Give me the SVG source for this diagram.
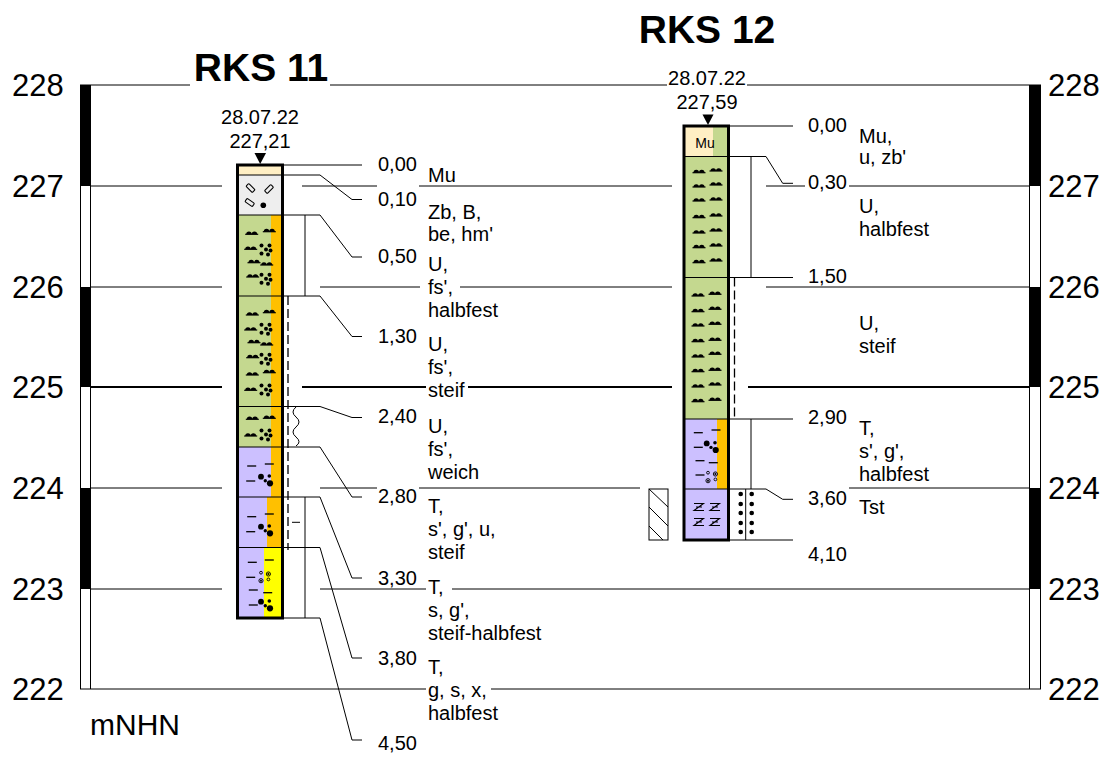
<svg xmlns="http://www.w3.org/2000/svg" width="1109" height="763" viewBox="0 0 1109 763">
<style>
text{font-family:"Liberation Sans",Arial,sans-serif;fill:#000}
.n{font-size:20px}
.c{text-anchor:middle}
.sc{font-size:31px}
.t{font-size:39px;font-weight:bold}
.g{stroke:#000;stroke-width:1;fill:none}
.g2{stroke:#000;stroke-width:2;fill:none}
.bd{fill:none;stroke:#000;stroke-width:3}
.lb{stroke:#000;stroke-width:1;fill:none}
.cr{fill:#FFEFC4}
.gy{fill:#EEEEEE}
.gn{fill:#C4D88F}
.or{fill:#FFC000}
.lv{fill:#CCC0FF}
.ye{fill:#FFFF00}
.dash{stroke:#000;stroke-width:1.3;fill:none;stroke-dasharray:9,4}
</style>
<defs>
<g id="silt"><path d="M-6.5,1H6.5" stroke="#000" stroke-width="1.2"/><path d="M-5.5,1A2.7,2.8 0 0 1 0,1A2.7,2.8 0 0 1 5.5,1Z" fill="#000"/></g>
<g id="fs" fill="#000"><circle cx="-4.5" cy="-4.5" r="2"/><circle cx="3.5" cy="-4.5" r="2"/><circle cx="0" cy="-0.5" r="2"/><circle cx="4.5" cy="0.5" r="2"/><circle cx="-4.5" cy="3.5" r="2"/><circle cx="2" cy="4.5" r="2"/></g>
<g id="gr" fill="#000"><circle cx="-5" cy="-3.3" r="2.9"/><circle cx="3.3" cy="-4" r="1.8"/><circle cx="-0.7" cy="0.7" r="1.7"/><circle cx="4" cy="3.3" r="3.1"/></g>
<g id="sa" fill="none" stroke="#000" stroke-width="0.9"><circle cx="-3.7" cy="-4" r="1.4"/><circle cx="-3.7" cy="4" r="2.1"/><circle cx="-3.7" cy="4" r="0.7" fill="#000"/><circle cx="3.7" cy="-2.7" r="2.1"/><circle cx="3.7" cy="-2.7" r="0.7" fill="#000"/><circle cx="3.7" cy="2.7" r="1.4"/></g>
<path id="cl" d="M-4.5,0H4.5" stroke="#000" stroke-width="1.3"/>
<path id="zz" d="M-5,-3.5H4.5L-5,3.5H5M-3,0H3" stroke="#000" stroke-width="1.1" fill="none"/>
<g id="brick"><rect x="-4.5" y="-2" width="9" height="4" rx="1" fill="none" stroke="#000" stroke-width="1.1"/></g>
<clipPath id="hc"><rect x="649" y="489" width="19" height="51"/></clipPath>
</defs>

<g id="scale-left">
<rect x="80.5" y="85" width="10" height="604" fill="#fff" stroke="#000" stroke-width="1"/>
<rect x="80" y="85" width="11" height="101" fill="#000"/>
<rect x="80" y="287" width="11" height="100" fill="#000"/>
<rect x="80" y="488" width="11" height="101" fill="#000"/>
<text class="sc" x="12" y="96">228</text>
<text class="sc" x="12" y="197">227</text>
<text class="sc" x="12" y="298">226</text>
<text class="sc" x="12" y="398">225</text>
<text class="sc" x="12" y="499">224</text>
<text class="sc" x="12" y="600">223</text>
<text class="sc" x="12" y="700">222</text>
<text x="90" y="735" style="font-size:30px">mNHN</text>
</g>

<g id="scale-right">
<rect x="1029.5" y="85" width="11" height="604" fill="#fff" stroke="#000" stroke-width="1"/>
<rect x="1029" y="85" width="12" height="101" fill="#000"/>
<rect x="1029" y="287" width="12" height="100" fill="#000"/>
<rect x="1029" y="488" width="12" height="101" fill="#000"/>
<text class="sc" x="1048" y="96">228</text>
<text class="sc" x="1048" y="197">227</text>
<text class="sc" x="1048" y="298">226</text>
<text class="sc" x="1048" y="398">225</text>
<text class="sc" x="1048" y="499">224</text>
<text class="sc" x="1048" y="600">223</text>
<text class="sc" x="1048" y="700">222</text>
</g>

<g id="grid">
<path class="g" d="M91,85H190M330,85H667M747,85H1029"/>
<path class="g" d="M91,186H222M302,186H377M419,186H672M766,186H805M849,186H1029"/>
<path class="g" d="M91,287H222M320,287H420M460,287H672M766,287H1029"/>
<path class="g2" d="M91,387H222M302,387H426M468,387H672M748,387H1029"/>
<path class="g" d="M91,488H222M320,488H377M419,488H640M849,488H1029"/>
<path class="g" d="M91,589H222M320,589H426M452,589H1029"/>
<path class="g" d="M91,689H426M491,689H1029"/>
</g>

<g id="rks11">
<text class="t c" x="261" y="81">RKS 11</text>
<text class="n c" x="260" y="124">28.07.22</text>
<text class="n c" x="260" y="148">227,21</text>
<polygon points="254.5,153 266,153 260.2,164" fill="#000"/>
<rect class="cr" x="237.5" y="165" width="45" height="10"/>
<rect class="gy" x="237.5" y="175" width="45" height="40"/>
<rect class="gn" x="237.5" y="215" width="45" height="232"/>
<rect class="or" x="271" y="215" width="11.5" height="282"/>
<rect class="lv" x="237.5" y="447" width="33.5" height="50"/>
<rect class="lv" x="237.5" y="497" width="29.5" height="50.5"/>
<rect class="or" x="267" y="497" width="15.5" height="50.5"/>
<rect class="lv" x="237.5" y="547.5" width="26.5" height="70.5"/>
<rect class="ye" x="264" y="547.5" width="18.5" height="70.5"/>
<path class="lb" d="M237.5,175H282.5M237.5,215H282.5M237.5,296H282.5M237.5,406.5H282.5M237.5,447H282.5M237.5,497H282.5M237.5,547.5H282.5"/>
<use href="#brick" transform="translate(250.5,188) rotate(45)"/>
<use href="#brick" transform="translate(269,189) rotate(-45)"/>
<use href="#brick" transform="translate(249.7,202.5) rotate(35)"/>
<circle cx="263.3" cy="205.3" r="2.8" fill="#000"/>
<use href="#silt" x="251.7" y="233.3"/><use href="#silt" x="269.3" y="230.7"/>
<use href="#silt" x="250.7" y="248.3"/><use href="#fs" x="266" y="250"/>
<use href="#silt" x="254" y="261.7"/><use href="#silt" x="266.7" y="264"/>
<use href="#silt" x="252.7" y="276"/><use href="#fs" x="266" y="279.3"/>
<use href="#silt" x="252.3" y="314"/><use href="#silt" x="269.3" y="311.7"/>
<use href="#silt" x="250.7" y="329"/><use href="#fs" x="266" y="329.3"/>
<use href="#silt" x="254" y="341.7"/><use href="#silt" x="266.7" y="344"/>
<use href="#silt" x="252.7" y="356.7"/><use href="#fs" x="266" y="359.3"/>
<use href="#silt" x="252.3" y="374"/><use href="#silt" x="269.3" y="371.7"/>
<use href="#silt" x="250.7" y="389.3"/><use href="#fs" x="266" y="390"/>
<use href="#silt" x="252.3" y="418.3"/><use href="#silt" x="269.3" y="417.3"/>
<use href="#silt" x="250.7" y="435"/><use href="#fs" x="266" y="435"/>
<use href="#cl" x="251.7" y="466"/><use href="#cl" x="269.3" y="464"/>
<use href="#cl" x="250.7" y="481"/><use href="#gr" x="266" y="480"/>
<use href="#cl" x="251.7" y="516.7"/><use href="#cl" x="269.3" y="514"/>
<use href="#cl" x="250.7" y="531.7"/><use href="#gr" x="266" y="530"/>
<use href="#cl" x="252.3" y="562.3"/><use href="#cl" x="269.3" y="560"/>
<use href="#cl" x="250.7" y="577.3"/><use href="#sa" x="264.7" y="576.7"/>
<use href="#cl" x="253.3" y="590"/><use href="#cl" x="267.7" y="592.7"/>
<use href="#cl" x="253.3" y="605"/><use href="#gr" x="266" y="605"/>
<rect class="bd" x="237.5" y="165" width="45" height="453"/>
<path class="lb" d="M305,215V296M305,497V618M292,522.3H300"/>
<path class="dash" d="M288,296V550"/>
<path class="lb" d="M296,407q-6,5 0,10t0,10t0,10t0,9"/>
<path class="lb" d="M283,165H362M283,175H320L352,199.5H362M283,215H320L352,257H362M283,296H320L352,336.5H362M283,406.5H320L352,417.5H362M283,447H320L352,497H362M283,497H320L352,578H362M283,547.5H320L352,658H362M283,618H320L352,740H362"/>
<text class="n" x="378" y="171">0,00</text>
<text class="n" x="428" y="182">Mu</text>
<text class="n" x="378" y="206">0,10</text>
<text class="n" x="428" y="219">Zb, B,</text>
<text class="n" x="428" y="241">be, hm'</text>
<text class="n" x="378" y="263">0,50</text>
<text class="n" x="428" y="271">U,</text>
<text class="n" x="428" y="294">fs',</text>
<text class="n" x="428" y="317">halbfest</text>
<text class="n" x="378" y="343">1,30</text>
<text class="n" x="428" y="351">U,</text>
<text class="n" x="428" y="374">fs',</text>
<text class="n" x="428" y="397">steif</text>
<text class="n" x="378" y="423">2,40</text>
<text class="n" x="428" y="433">U,</text>
<text class="n" x="428" y="456">fs',</text>
<text class="n" x="428" y="479">weich</text>
<text class="n" x="378" y="503">2,80</text>
<text class="n" x="428" y="513">T,</text>
<text class="n" x="428" y="536">s', g', u,</text>
<text class="n" x="428" y="559">steif</text>
<text class="n" x="378" y="585">3,30</text>
<text class="n" x="428" y="594">T,</text>
<text class="n" x="428" y="617">s, g',</text>
<text class="n" x="428" y="640">steif-halbfest</text>
<text class="n" x="378" y="665">3,80</text>
<text class="n" x="428" y="674">T,</text>
<text class="n" x="428" y="697">g, s, x,</text>
<text class="n" x="428" y="720">halbfest</text>
<text class="n" x="378" y="750">4,50</text>
</g>

<g id="rks12">
<text class="t c" x="707" y="43">RKS 12</text>
<text class="n c" x="707" y="85">28.07.22</text>
<text class="n c" x="707" y="109">227,59</text>
<polygon points="702.5,114.5 713.5,114.5 708,125" fill="#000"/>
<rect class="cr" x="684" y="126" width="29" height="30.5"/>
<rect class="gn" x="713" y="126" width="15" height="30.5"/>
<rect class="gn" x="684" y="156.5" width="44" height="262.5"/>
<rect class="lv" x="684" y="419" width="33" height="70"/>
<rect class="or" x="717" y="419" width="11" height="70"/>
<rect class="lv" x="684" y="489" width="44" height="51"/>
<text x="705" y="148" class="c" style="font-size:14px">Mu</text>
<path class="lb" d="M684,156.5H728M684,277.5H728M684,419H728M684,489H728"/>
<use href="#silt" x="699" y="171.7"/><use href="#silt" x="716" y="170"/>
<use href="#silt" x="699" y="186"/><use href="#silt" x="716" y="184"/>
<use href="#silt" x="699" y="200"/><use href="#silt" x="716" y="199"/>
<use href="#silt" x="699" y="216.7"/><use href="#silt" x="716" y="215"/>
<use href="#silt" x="699" y="232"/><use href="#silt" x="716" y="230"/>
<use href="#silt" x="699" y="246.7"/><use href="#silt" x="716" y="245"/>
<use href="#silt" x="699" y="261.7"/><use href="#silt" x="716" y="260"/>
<use href="#silt" x="698" y="295"/><use href="#silt" x="715" y="293.3"/>
<use href="#silt" x="698" y="310.7"/><use href="#silt" x="715" y="308.3"/>
<use href="#silt" x="698" y="325"/><use href="#silt" x="715" y="323.3"/>
<use href="#silt" x="698" y="340.7"/><use href="#silt" x="715" y="339.3"/>
<use href="#silt" x="698" y="356"/><use href="#silt" x="715" y="353.3"/>
<use href="#silt" x="698" y="370.7"/><use href="#silt" x="715" y="369.3"/>
<use href="#silt" x="698" y="386"/><use href="#silt" x="715" y="384"/>
<use href="#silt" x="698" y="400.7"/><use href="#silt" x="715" y="399.3"/>
<use href="#cl" x="698.3" y="432.7"/><use href="#cl" x="716" y="430"/>
<use href="#cl" x="698.3" y="447.3"/><use href="#gr" x="711.7" y="446.7"/>
<use href="#cl" x="700" y="460.7"/><use href="#cl" x="713.3" y="462.7"/>
<use href="#cl" x="700" y="475"/><use href="#sa" x="711.7" y="476.7"/>
<use href="#zz" x="699" y="507"/><use href="#zz" x="715" y="507"/>
<use href="#zz" x="699" y="522"/><use href="#zz" x="715" y="522"/>
<rect class="bd" x="684" y="126" width="44.5" height="414"/>
<path class="lb" d="M751,156.5V277.5M751,419V489M745.7,489V540"/>
<path class="dash" d="M734.5,277.5V419"/>
<g fill="#000"><circle cx="740.7" cy="494" r="2.3"/><circle cx="740.7" cy="504" r="2.3"/><circle cx="740.7" cy="513" r="2.3"/><circle cx="740.7" cy="523" r="2.3"/><circle cx="740.7" cy="532" r="2.3"/><circle cx="751.7" cy="494" r="2.3"/><circle cx="751.7" cy="504" r="2.3"/><circle cx="751.7" cy="513" r="2.3"/><circle cx="751.7" cy="523" r="2.3"/><circle cx="751.7" cy="532" r="2.3"/></g>
<rect x="649" y="489" width="19" height="51" fill="#fff" stroke="#000" stroke-width="1"/>
<path class="lb" clip-path="url(#hc)" d="M649,489L668,507M649,507L668,526M649,526L668,545"/>
<path class="lb" d="M729,126H793M729,156.5H766L782.7,183.3H793M729,277.5H793M729,419H793M729,489H766L782.7,499.3H793M729,540H793"/>
<text class="n" x="808" y="132">0,00</text>
<text class="n" x="859" y="143">Mu,</text>
<text class="n" x="859" y="164">u, zb'</text>
<text class="n" x="808" y="189">0,30</text>
<text class="n" x="859" y="213">U,</text>
<text class="n" x="859" y="236">halbfest</text>
<text class="n" x="808" y="283">1,50</text>
<text class="n" x="859" y="330">U,</text>
<text class="n" x="859" y="353">steif</text>
<text class="n" x="808" y="424">2,90</text>
<text class="n" x="859" y="435">T,</text>
<text class="n" x="859" y="458">s', g',</text>
<text class="n" x="859" y="481">halbfest</text>
<text class="n" x="808" y="505">3,60</text>
<text class="n" x="859" y="514">Tst</text>
<text class="n" x="808" y="561">4,10</text>
</g>
</svg>
